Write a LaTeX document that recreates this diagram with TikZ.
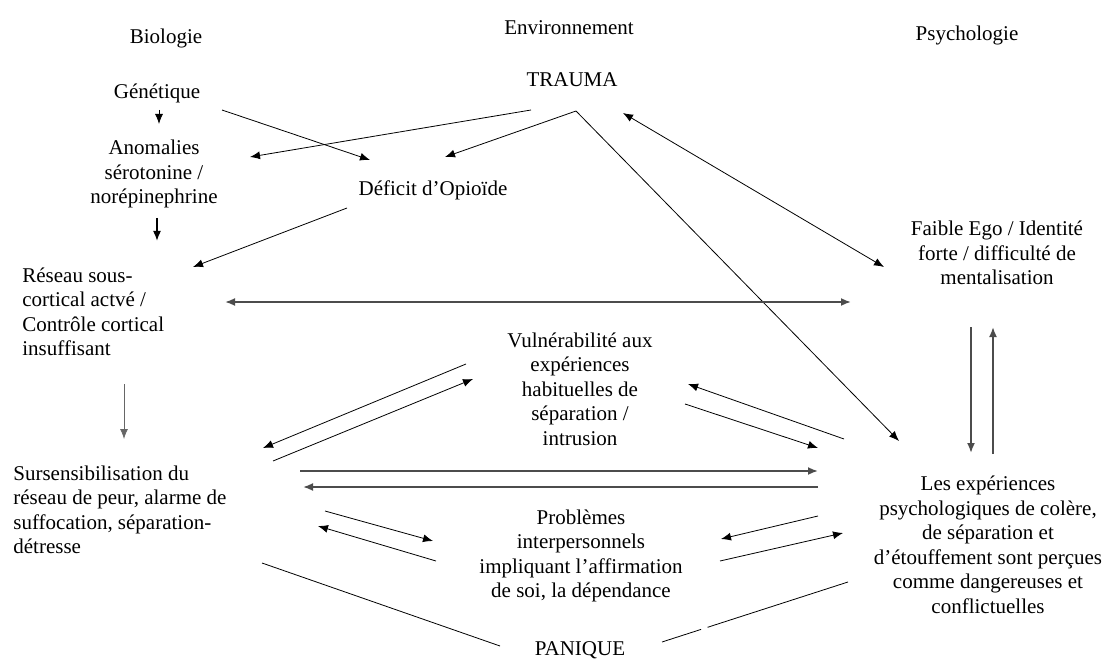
\documentclass[tikz,border=0pt]{standalone}
\usepackage{fontspec}
\setmainfont{Liberation Serif}
\usepackage{tikz}
\usetikzlibrary{arrows.meta}
\usetikzlibrary{calc}
\tikzset{>={Latex[length=10pt, width=8pt]}}
\tikzset{label box/.style = {font=\fontsize{21}{24.5}\selectfont, align=center, inner sep=0pt}}
\tikzset{heavy/.style = {line width=1.8pt, draw=black!70}}

\begin{document}
\begin{tikzpicture}[x = 1pt, y = -1pt, line width = 0.8pt]
      \useasboundingbox (0, 0) rectangle (1106, 663);
      % column heads
      \node [label box] (bio) at (166, 38) {Biologie};
      \node [label box] (env) at (569, 28) {Environnement};
      \node [label box] (psy) at (967, 35) {Psychologie};
      % blocks
      \node [label box] (trauma) at (572, 80) {TRAUMA};
      \node [label box] (gen) at (157, 93) {Génétique};
      \node [label box] (anom) at (154, 174) {Anomalies\\sérotonine /\\norépinephrine};
      \node [label box] (def) at (433, 190) {Déficit d’Opioïde};
      \node [label box, align = left, anchor = west] (reseau) at (22, 312)
            {Réseau sous-\\cortical actvé /\\Contrôle cortical\\insuffisant};
      \node [label box] (ego) at (997, 253) {Faible Ego / Identité\\forte / difficulté de\\mentalisation};
      \node [label box] (vul) at (580, 389)
            {Vulnérabilité aux\\expériences\\habituelles de\\séparation /\\intrusion};
      \node [label box, align = left, anchor = west] (sursens) at (13, 510)
            {Sursensibilisation du\\réseau de peur, alarme de\\suffocation, séparation-\\détresse};
      \node [label box] (prob) at (581, 556)
            {Problèmes\\interpersonnels\\impliquant l’affirmation\\de soi, la dépendance};
      \node [label box] (les) at (988, 545)
            {Les expériences\\psychologiques de colère,\\de séparation et\\d’étouffement sont perçues\\comme dangereuses et\\conflictuelles};
      \node [label box] (panique) at (580, 650) {PANIQUE};
      % biology column
      \draw [->] ($(gen) + (2, 17)$) -- ($(anom) + (5, -50)$);
      \draw [->, line width = 1.6pt] ($(anom) + (3, 44)$) -- ($(reseau.west) + (135, -71)$);
      \draw [->, draw = black!60] ($(reseau.west) + (102, 72)$) -- ($(sursens.west) + (111, -71)$);
      % trauma
      \draw [->] ($(gen) + (65, 17)$) -- ($(def) + (-63, -30)$);
      \draw [->] ($(trauma) + (-41, 30)$) -- ($(anom) + (96, -17)$);
      \draw [->] ($(trauma) + (4, 31)$) -- ($(def) + (12, -33)$);
      \draw [->] ($(trauma) + (4, 31)$) -- ($(les) + (-89, -104)$);
      \draw [<->] ($(trauma) + (51, 33)$) -- ($(ego) + (-113, 14)$);
      \draw [->] ($(def) + (-86, 18)$) -- ($(reseau.west) + (171, -45)$);
      % middle
      \draw [<->, heavy] ($(reseau.west) + (203, -10)$) -- ($(ego) + (-146, 49)$);
      \draw [->] ($(vul) + (-114, -25)$) -- ($(sursens.west) + (250, -62)$);
      \draw [->] ($(sursens.west) + (260, -49)$) -- ($(vul) + (-107, -10)$);
      \draw [->, heavy] ($(sursens.west) + (287, -39)$) -- ($(les) + (-170, -74)$);
      \draw [->, heavy] ($(les) + (-170, -58)$) -- ($(sursens.west) + (290, -23)$);
      \draw [->] ($(sursens.west) + (312, 1)$) -- ($(prob) + (-148, -15)$);
      \draw [->] ($(prob) + (-145, 5)$) -- ($(sursens.west) + (305, 16)$);
      \draw [->] ($(les) + (-144, -106)$) -- ($(vul) + (108, -5)$);
      \draw [->] ($(vul) + (105, 15)$) -- ($(les) + (-170, -97)$);
      \draw [->] ($(les) + (-170, -29)$) -- ($(prob) + (140, -17)$);
      \draw [->] ($(prob) + (139, 5)$) -- ($(les) + (-145, -12)$);
      % psychology column
      \draw [->, heavy] ($(ego) + (-26, 74)$) -- ($(les) + (-17, -92)$);
      \draw [->, heavy] ($(les) + (5, -91)$) -- ($(ego) + (-4, 74)$);
      % panique
      \draw ($(sursens.west) + (249, 53)$) -- ($(panique) + (-80, -4)$);
      \coordinate (pl) at ($(panique) + (82, -8)$);
      \coordinate (pr) at ($(les) + (-140, 37)$);
      \draw (pl) -- ($(pl)!0.21!(pr)$) ($(pl)!0.245!(pr)$) -- (pr);
      
    \end{tikzpicture}
\end{document}
